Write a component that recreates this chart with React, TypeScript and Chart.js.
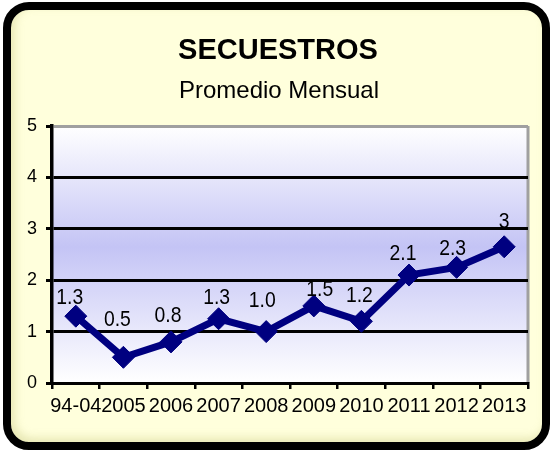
import React, { useEffect, useRef } from "react";
import { Chart, registerables } from "chart.js";

Chart.register(...registerables);

const categories = ["94-04", "2005", "2006", "2007", "2008", "2009", "2010", "2011", "2012", "2013"];
const promedioMensual = [1.3, 0.5, 0.8, 1.25, 1.0, 1.5, 1.2, 2.1, 2.25, 2.65];
const valueLabels = ["1.3", "0.5", "0.8", "1.3", "1.0", "1.5", "1.2", "2.1", "2.3", "3"];
const yMin = 0;
const yMax = 5;
const yStep = 1;
const titleText = "SECUESTROS";
const subtitleText = "Promedio Mensual";

// label nudges relative to each point (style only)
const labelNudgeX = [-6, -6, -3, -2, -4, 6, -2, -6, -4, 0];
const labelNudgeY = [-20, -39, -28, -23, -33, -18, -27, -23, -20, -27];

const FONT = "'Liberation Sans', Arial, Helvetica, sans-serif";

const backgroundPlugin = {
  id: "bgAndTitles",
  beforeDraw(chart: any) {
    const { ctx, chartArea } = chart;
    const { left, right, top, bottom } = chartArea;
    ctx.save();
    const g = ctx.createLinearGradient(0, top, 0, bottom);
    g.addColorStop(0, "#ffffff");
    g.addColorStop(0.47, "#c4c4f5");
    g.addColorStop(1, "#ffffff");
    ctx.fillStyle = g;
    ctx.fillRect(left, top, right - left, bottom - top);
    ctx.strokeStyle = "#a0a0a0";
    ctx.lineWidth = 3;
    ctx.beginPath();
    ctx.moveTo(right, top);
    ctx.lineTo(right, bottom);
    ctx.stroke();
    const cx = chart.width / 2;
    ctx.fillStyle = "#000";
    ctx.textAlign = "center";
    ctx.textBaseline = "alphabetic";
    ctx.font = `bold 29px ${FONT}`;
    ctx.fillText(titleText, cx + 2, 59);
    ctx.font = `24px ${FONT}`;
    ctx.fillText(subtitleText, cx + 3, 98);
    ctx.restore();
  },
};

const valueLabelPlugin = {
  id: "valueLabels",
  afterDatasetsDraw(chart: any) {
    const { ctx } = chart;
    const meta = chart.getDatasetMeta(0);
    ctx.save();
    ctx.fillStyle = "#000";
    ctx.textAlign = "center";
    ctx.textBaseline = "alphabetic";
    ctx.font = `22px ${FONT}`;
    meta.data.forEach((pt: any, i: number) => {
      const x = pt.x + labelNudgeX[i];
      const y = pt.y + labelNudgeY[i] + 8;
      ctx.save();
      ctx.translate(x, y);
      ctx.scale(0.88, 1);
      ctx.fillText(valueLabels[i], 0, 0);
      ctx.restore();
    });
    ctx.restore();
  },
};

export default function App() {
  const canvasRef = useRef<HTMLCanvasElement | null>(null);

  useEffect(() => {
    const canvas = canvasRef.current;
    if (!canvas) return;
    const chart = new Chart(canvas, {
      type: "line",
      data: {
        labels: categories,
        datasets: [
          {
            data: promedioMensual,
            borderColor: "#000080",
            backgroundColor: "#000080",
            borderWidth: 7,
            tension: 0,
            pointStyle: "rectRot",
            pointRadius: 11,
            pointHoverRadius: 11,
            pointBackgroundColor: "#000080",
            pointBorderColor: "#000080",
            pointBorderWidth: 1,
          },
        ],
      },
      options: {
        responsive: false,
        animation: false,
        events: [],
        layout: { padding: { left: 0, right: 24, top: 126, bottom: 0 } },
        plugins: {
          legend: { display: false },
          title: { display: false },
          tooltip: { enabled: false },
        },
        scales: {
          x: {
            type: "category",
            offset: true,
            afterFit: (scale: any) => {
              scale.height = 68;
            },
            grid: {
              offset: true,
              drawOnChartArea: false,
              drawTicks: true,
              tickLength: 6,
              color: "#000",
              lineWidth: 2.5,
            },
            border: { display: true, color: "#000", width: 3 },
            ticks: {
              color: "#000",
              font: { size: 20, family: FONT },
              autoSkip: false,
              maxRotation: 0,
              minRotation: 0,
              padding: 5,
            },
          },
          y: {
            min: yMin,
            max: yMax,
            afterFit: (scale: any) => {
              scale.width = 52;
            },
            ticks: {
              stepSize: yStep,
              color: "#000",
              font: { size: 18, family: FONT },
              padding: 9,
            },
            grid: {
              color: (c: any) => (c.tick && c.tick.value === yMax ? "#a0a0a0" : "#000"),
              tickColor: "#000",
              lineWidth: 3,
              tickLength: 6,
              drawTicks: true,
            },
            border: { display: true, color: "#000", width: 3.5 },
          },
        },
      },
      plugins: [backgroundPlugin, valueLabelPlugin],
    });
    return () => chart.destroy();
  }, []);

  return (
    <div style={{ position: "absolute", left: 0, top: 0, width: 552, height: 451, background: "#ffffff" }}>
      <div
        style={{
          position: "absolute",
          left: 3,
          top: 2,
          width: 547,
          height: 448,
          boxSizing: "border-box",
          border: "8px solid #000",
          borderRadius: 26,
          background: "#ffffdc",
          boxShadow: "inset 4px -4px 8px rgba(190,190,110,0.35)",
        }}
      />
      <canvas
        ref={canvasRef}
        width={552}
        height={451}
        style={{ position: "absolute", left: 0, top: 0, width: 552, height: 451 }}
      />
    </div>
  );
}
